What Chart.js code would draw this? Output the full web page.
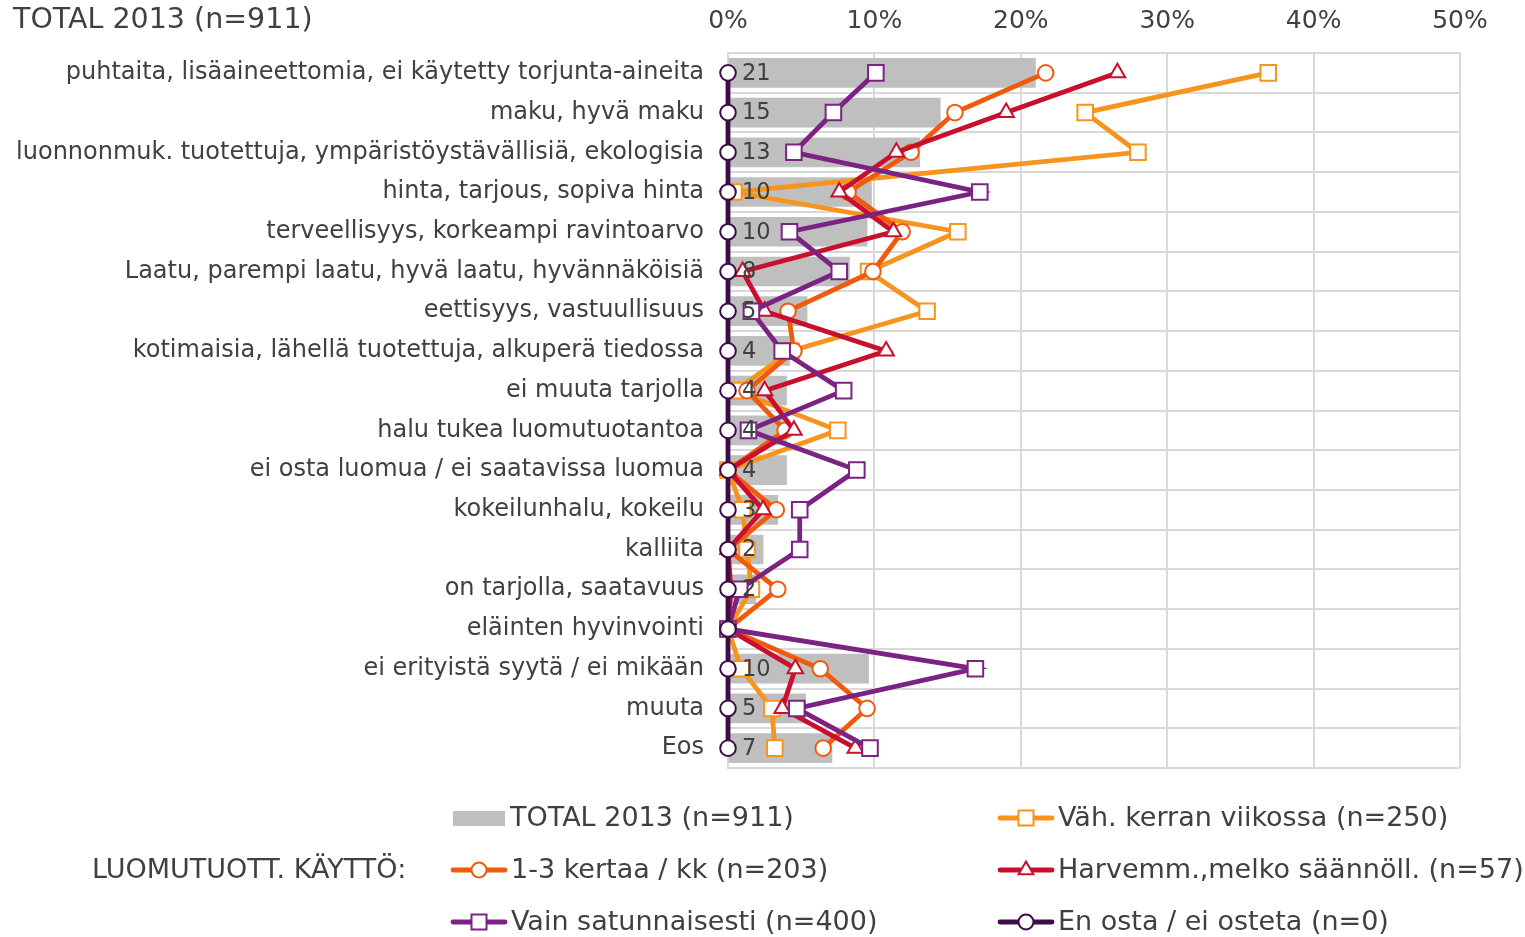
<!DOCTYPE html>
<html>
<head>
<meta charset="utf-8">
<script src="https://cdn.jsdelivr.net/npm/chart.js@4.4.1/dist/chart.umd.min.js"></script>
<style>
html, body { margin: 0; padding: 0; background: #fff; }
</style>
</head>
<body>
<canvas id="chart" width="1525" height="937"></canvas>
<script>
const categories = [
    "puhtaita, lisäaineettomia, ei käytetty torjunta-aineita",
    "maku, hyvä maku",
    "luonnonmuk. tuotettuja, ympäristöystävällisiä, ekologisia",
    "hinta, tarjous, sopiva hinta",
    "terveellisyys, korkeampi ravintoarvo",
    "Laatu, parempi laatu, hyvä laatu, hyvännäköisiä",
    "eettisyys, vastuullisuus",
    "kotimaisia, lähellä tuotettuja, alkuperä tiedossa",
    "ei muuta tarjolla",
    "halu tukea luomutuotantoa",
    "ei osta luomua / ei saatavissa luomua",
    "kokeilunhalu, kokeilu",
    "kalliita",
    "on tarjolla, saatavuus",
    "eläinten hyvinvointi",
    "ei erityistä syytä / ei mikään",
    "muuta",
    "Eos"
];

const totalValues = [21.0, 14.5, 13.1, 9.8, 9.5, 8.3, 5.4, 4.2, 4.0, 4.0, 4.0, 3.4, 2.4, 1.9, 0, 9.6, 5.3, 7.1];
const weeklyValues = [36.9, 24.4, 28.0, 0.4, 15.7, 9.6, 13.6, 4.3, 0.5, 7.5, 0, 1.0, 1.3, 1.6, 0, 0.9, 3.0, 3.2];
const monthlyValues = [21.7, 15.5, 12.5, 8.2, 11.9, 9.9, 4.1, 4.5, 1.3, 3.9, 0, 3.3, 0, 3.4, 0, 6.3, 9.5, 6.5];
const rarelyValues = [26.6, 19.0, 11.5, 7.6, 11.3, 1.0, 2.5, 10.8, 2.5, 4.5, 0, 2.4, 0, 0.2, 0, 4.6, 3.7, 8.7];
const occasionalValues = [10.1, 7.2, 4.5, 17.2, 4.2, 7.6, 1.6, 3.7, 7.9, 1.4, 8.8, 4.9, 4.9, 0.8, 0, 16.9, 4.7, 9.7];
const neverValues = [0, 0, 0, 0, 0, 0, 0, 0, 0, 0, 0, 0, 0, 0, 0, 0, 0, 0];

const xTicks = [0, 10, 20, 30, 40, 50];

const FONT = "'DejaVu Sans', Verdana, sans-serif";
const TEXT = "#404040";

const seriesNames = {
    total: "TOTAL 2013 (n=911)",
    weekly: "Väh. kerran viikossa (n=250)",
    monthly: "1-3 kertaa / kk (n=203)",
    rarely: "Harvemm.,melko säännöll. (n=57)",
    occasional: "Vain satunnaisesti (n=400)",
    never: "En osta / ei osteta (n=0)"
};

function lineSet(label, data, color, style, radius, order) {
    return {
        type: "line",
        label: label,
        data: data,
        borderColor: color,
        borderWidth: 4.8,
        pointStyle: style,
        pointRadius: radius,
        pointHoverRadius: radius,
        pointBorderWidth: 2,
        pointBorderColor: color,
        pointBackgroundColor: "#ffffff",
        fill: false,
        tension: 0,
        clip: false,
        order: order
    };
}

// title, bar labels and the legend
const extrasPlugin = {
    id: "extras",
    afterDatasetsDraw(chart) {
        const ctx = chart.ctx;
        const meta = chart.getDatasetMeta(0);
        ctx.save();
        ctx.font = "22.5px " + FONT;
        ctx.fillStyle = TEXT;
        ctx.textAlign = "left";
        ctx.textBaseline = "middle";
        meta.data.forEach((bar, i) => {
            const v = Math.round(totalValues[i]);
            if (v > 0) ctx.fillText(String(v), bar.base + 13, bar.y + 1);
        });
        ctx.restore();
    },
    afterDraw(chart) {
        const ctx = chart.ctx;
        ctx.save();
        ctx.fillStyle = TEXT;
        ctx.textBaseline = "middle";
        ctx.textAlign = "left";
        ctx.font = "28.5px " + FONT;
        ctx.fillText(seriesNames.total, 13, 21);

        ctx.font = "27px " + FONT;
        ctx.fillText("LUOMUTUOTT. KÄYTTÖ:", 92, 871);

        const sets = chart.data.datasets;
        ctx.fillStyle = "#BFBFBF";
        ctx.fillRect(453, 811, 52, 15);
        ctx.fillStyle = TEXT;
        ctx.fillText(seriesNames.total, 510, 819);

        const items = [
            [sets[1], 998, 818],
            [sets[2], 451, 870],
            [sets[3], 998, 870],
            [sets[4], 451, 922],
            [sets[5], 998, 922]
        ];
        items.forEach(([ds, x, y]) => {
            ctx.strokeStyle = ds.borderColor;
            ctx.lineWidth = 4.8;
            ctx.lineCap = "round";
            ctx.beginPath();
            ctx.moveTo(x + 2, y);
            ctx.lineTo(x + 54, y);
            ctx.stroke();
            const cx = x + 28;
            ctx.lineWidth = 2;
            ctx.fillStyle = "#ffffff";
            ctx.beginPath();
            if (ds.pointStyle === "rect") {
                ctx.rect(cx - 7.5, y - 7.5, 15, 15);
            } else if (ds.pointStyle === "triangle") {
                ctx.moveTo(cx, y - 8.5);
                ctx.lineTo(cx + 7.4, y + 4.3);
                ctx.lineTo(cx - 7.4, y + 4.3);
                ctx.closePath();
            } else {
                ctx.arc(cx, y, 7.5, 0, Math.PI * 2);
            }
            ctx.fill();
            ctx.stroke();
            ctx.fillStyle = TEXT;
            ctx.fillText(ds.label, x + 60, y + 1);
        });
        ctx.restore();
    }
};

const chartElement = document.getElementById("chart").getContext("2d");

const chart = new Chart(chartElement, {
    type: "bar",
    data: {
        labels: categories,
        datasets: [
            {
                type: "bar",
                label: seriesNames.total,
                data: totalValues,
                backgroundColor: "#BFBFBF",
                barThickness: 29,
                order: 10
            },
            lineSet(seriesNames.weekly, weeklyValues, "#F7941D", "rect", 11, 5),
            lineSet(seriesNames.monthly, monthlyValues, "#F05A0C", "circle", 7.8, 4),
            lineSet(seriesNames.rarely, rarelyValues, "#C8102E", "triangle", 9, 3),
            lineSet(seriesNames.occasional, occasionalValues, "#7B2383", "rect", 11, 2),
            lineSet(seriesNames.never, neverValues, "#3E0C47", "circle", 7.8, 1)
        ]
    },
    options: {
        indexAxis: "y",
        responsive: false,
        animation: false,
        layout: { padding: { left: 0, right: 65, top: 0, bottom: 169 } },
        plugins: {
            legend: { display: false },
            tooltip: { enabled: false }
        },
        scales: {
            x: {
                type: "linear",
                position: "top",
                min: 0,
                max: 50,
                afterBuildTicks: scale => { scale.ticks = xTicks.map(v => ({ value: v })); },
                afterFit: scale => { scale.height = 53; },
                ticks: {
                    callback: v => v + "%",
                    color: TEXT,
                    font: { family: FONT, size: 25 },
                    padding: 17
                },
                grid: { color: "#D9D9D9", lineWidth: 2, drawTicks: false },
                border: { color: "#D9D9D9", width: 2 }
            },
            y: {
                type: "category",
                offset: true,
                afterFit: scale => { scale.width = 728; },
                ticks: {
                    autoSkip: false,
                    color: TEXT,
                    font: { family: FONT, size: 24 },
                    padding: 24
                },
                grid: { offset: true, color: "#D9D9D9", lineWidth: 2, drawTicks: false },
                border: { color: "#D9D9D9", width: 2 }
            }
        }
    },
    plugins: [extrasPlugin]
});
</script>
</body>
</html>
